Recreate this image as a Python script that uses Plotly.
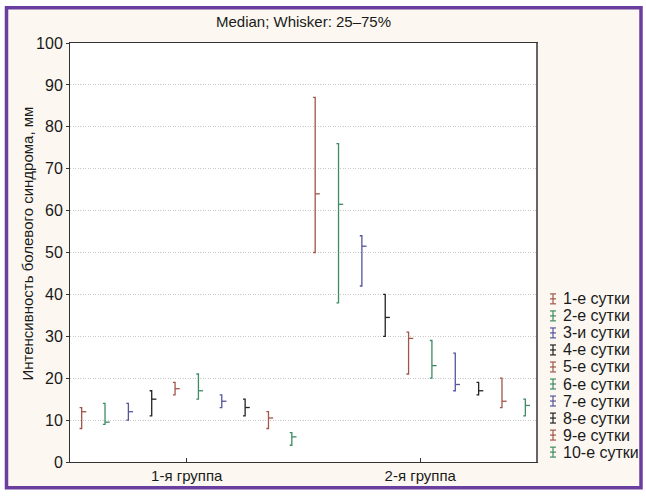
import plotly.graph_objects as go

# Categories and series
groups = ["1-я группа", "2-я группа"]
days = ["1-е сутки", "2-е сутки", "3-и сутки", "4-е сутки", "5-е сутки",
        "6-е сутки", "7-е сутки", "8-е сутки", "9-е сутки", "10-е сутки"]

# Median and quartiles (25%, 75%) for each day, by group
g1_median = [12, 9.5, 12, 15, 17.5, 17, 14.5, 13, 10.5, 6]
g1_q25 = [8, 9, 10, 11, 16, 15, 13, 11, 8, 4]
g1_q75 = [13, 14, 14, 17, 19, 21, 16, 15, 12, 7]

g2_median = [64, 61.5, 51.5, 34.5, 29.5, 23, 18.5, 17, 14.5, 13.5]
g2_q25 = [50, 38, 42, 30, 21, 20, 17, 16, 13, 11]
g2_q75 = [87, 76, 54, 40, 31, 29, 26, 19, 20, 15]

y_ticks = list(range(0, 101, 10))

palette = ["#A0564A", "#3E8C62", "#55559E", "#222222"]
colors = [palette[i % 4] for i in range(len(days))]

FONT = "Liberation Sans, Arial, sans-serif"
W, H = 646, 496
ML, MR, MT, MB = 70, 109, 43, 31
PW, PH = W - ML - MR, H - MT - MB


def xp(px):
    return (px - ML) / PW


def yp(py):
    return (H - MB - py) / PH


cap = 0.009      # whisker cap length (x units, to the left)
tick = 0.02      # median tick length (x units, to the right)
step = 0.1       # spacing between days inside a group

fig = go.Figure()

stats = [(g1_median, g1_q25, g1_q75), (g2_median, g2_q25, g2_q75)]
for i, day in enumerate(days):
    xs, ys = [], []
    for g, (med, lo, hi) in enumerate(stats):
        x0 = (g + 1) + (i - (len(days) - 1) / 2) * step
        xs += [x0 - cap, x0, x0, x0 - cap, None, x0, x0 + tick, None]
        ys += [hi[i], hi[i], lo[i], lo[i], None, med[i], med[i], None]
    fig.add_trace(go.Scatter(
        x=xs, y=ys, mode="lines", name=day, showlegend=False,
        line=dict(color=colors[i], width=1.3),
        hoverinfo="skip",
    ))

shapes = [
    # cream panel with purple frame
    dict(type="rect", xref="paper", yref="paper",
         x0=xp(6.5), x1=xp(641), y0=yp(491), y1=yp(7.5),
         fillcolor="#FCF8F1", line=dict(color="#6A3E9E", width=3.5),
         layer="below"),
    # white plotting area
    dict(type="rect", xref="paper", yref="paper", x0=0, x1=1, y0=0, y1=1,
         fillcolor="white", line=dict(width=0), layer="below"),
    # heavier grey right edge of the frame
    dict(type="line", xref="paper", yref="paper", x0=1, x1=1, y0=0, y1=1,
         line=dict(color="#666666", width=2)),
]

# Legend: whisker icon + label per day
annotations = []
for i, day in enumerate(days):
    py = 300.7 + 17.15 * i
    c = colors[i]
    for (ax0, ay0, ax1, ay1) in [(553, py - 5, 553, py + 5),
                                 (550, py - 5, 556, py - 5),
                                 (550, py, 556, py),
                                 (550, py + 5, 556, py + 5)]:
        shapes.append(dict(type="line", xref="paper", yref="paper",
                           x0=xp(ax0), y0=yp(ay0), x1=xp(ax1), y1=yp(ay1),
                           line=dict(color=c, width=1.2)))
    annotations.append(dict(
        xref="paper", yref="paper", x=xp(561), y=yp(py),
        xanchor="left", yanchor="middle", showarrow=False, text=day,
        font=dict(family=FONT, size=16, color="#1a1a1a"),
    ))

# Y-axis title
annotations.append(dict(
    xref="paper", yref="paper", x=xp(28), y=yp(245),
    xanchor="center", yanchor="middle", showarrow=False, textangle=-90,
    text="Интенсивность болевого синдрома, мм",
    font=dict(family=FONT, size=15, color="#1a1a1a"),
))

fig.update_layout(
    width=W, height=H,
    margin=dict(l=ML, r=MR, t=MT, b=MB, pad=0),
    paper_bgcolor="white", plot_bgcolor="white",
    showlegend=False,
    title=dict(text="Median; Whisker: 25–75%", x=0.5, xref="paper",
               y=(H - 22) / H, yanchor="middle", xanchor="center",
               font=dict(family=FONT, size=15, color="#1a1a1a")),
    font=dict(family=FONT, size=15, color="#1a1a1a"),
    shapes=shapes, annotations=annotations,
)

fig.update_xaxes(
    range=[0.5, 2.5], tickvals=[1, 2], ticktext=groups,
    showgrid=False, zeroline=False,
    showline=True, linecolor="#333333", linewidth=1, mirror=True,
    ticks="inside", ticklen=4, tickcolor="#333333",
    tickfont=dict(family=FONT, size=15, color="#1a1a1a"),
)
fig.update_yaxes(
    range=[0, 100], tickvals=y_ticks,
    showgrid=True, gridcolor="#C8C8C8", griddash="1px,1.5px", gridwidth=1,
    zeroline=False,
    showline=True, linecolor="#333333", linewidth=1, mirror=True,
    ticks="outside", ticklen=3, tickcolor="#333333",
    tickfont=dict(family=FONT, size=16, color="#1a1a1a"),
)

fig.write_html("out.html")
